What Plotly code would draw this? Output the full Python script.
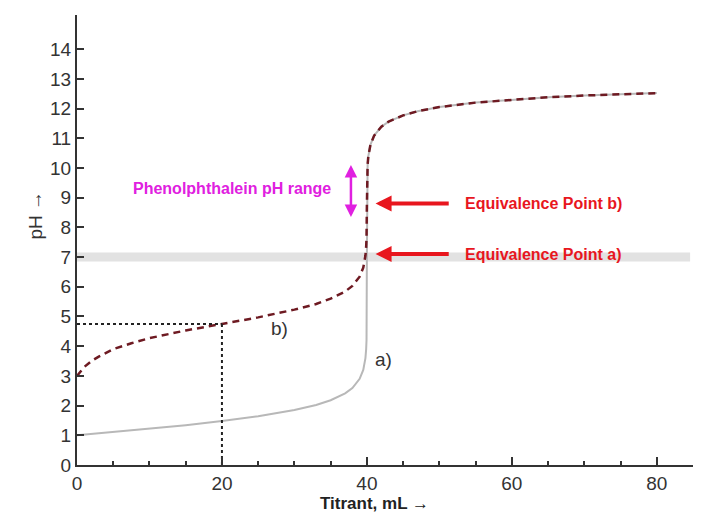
import plotly.graph_objects as go

# Titrant volume (mL) and pH
vol_a = [0, 5, 10, 15, 20, 25, 30, 33, 35, 37, 38, 39, 39.5, 39.8, 39.9, 39.95, 40,
         40.05, 40.1, 40.2, 40.5, 41, 42, 43, 45, 47, 50, 55, 60, 65, 70, 75, 80]
ph_a = [1.00, 1.11, 1.22, 1.34, 1.48, 1.64, 1.85, 2.02, 2.18, 2.41, 2.59, 2.90, 3.20, 3.60, 3.90, 4.20, 7.00,
        9.80, 10.10, 10.40, 10.79, 11.09, 11.39, 11.56, 11.77, 11.91, 12.05, 12.20, 12.30, 12.38, 12.44, 12.48, 12.52]

vol_b = [0, 1, 2, 3, 5, 7.5, 10, 15, 20, 25, 30, 33, 35, 37, 38, 39, 39.5, 39.8, 39.9, 39.95, 40,
         40.05, 40.1, 40.2, 40.5, 41, 42, 43, 45, 47, 50, 55, 60, 65, 70, 75, 80]
ph_b = [3.00, 3.30, 3.50, 3.65, 3.90, 4.10, 4.27, 4.53, 4.75, 4.97, 5.23, 5.42, 5.60, 5.84, 6.03, 6.34, 6.64, 7.05, 7.35, 7.65, 8.72,
        9.80, 10.10, 10.40, 10.79, 11.09, 11.39, 11.56, 11.77, 11.91, 12.05, 12.20, 12.30, 12.38, 12.44, 12.48, 12.52]

half_eq_vol = 20
half_eq_ph = 4.75
eq_a_ph = 7.0
eq_b_ph = 8.8
phen_low, phen_high = 8.3, 10.1

x_ticks = [0, 20, 40, 60, 80]
y_ticks = list(range(0, 15))

FONT = "Liberation Sans, Arial, sans-serif"

fig = go.Figure()

fig.add_trace(go.Scatter(x=vol_a, y=ph_a, mode="lines",
                         line=dict(color="#b8b8b8", width=2), hoverinfo="skip"))
fig.add_trace(go.Scatter(x=vol_b, y=ph_b, mode="lines",
                         line=dict(color="#6e1a22", width=2.5, dash="7px,5px"), hoverinfo="skip"))
# dotted guide lines at half-equivalence
fig.add_trace(go.Scatter(x=[0, half_eq_vol], y=[half_eq_ph, half_eq_ph], mode="lines",
                         line=dict(color="#222222", width=2, dash="dot"), hoverinfo="skip"))
fig.add_trace(go.Scatter(x=[half_eq_vol, half_eq_vol], y=[0, half_eq_ph], mode="lines",
                         line=dict(color="#222222", width=2, dash="dot"), hoverinfo="skip"))

# grey band at pH 7
fig.add_shape(type="rect", x0=0, x1=84.6, y0=eq_a_ph - 0.15, y1=eq_a_ph + 0.15,
              fillcolor="#e2e2e2", line=dict(width=0), layer="below")

red = "#e8161e"
mag = "#e020e0"
lab_font = dict(family=FONT, size=16, color=red)

# Equivalence arrows
for yv, txt in [(eq_b_ph, "<b>Equivalence Point b)</b>"), (eq_a_ph + 0.1, "<b>Equivalence Point a)</b>")]:
    fig.add_annotation(x=41.2, y=yv, ax=51.5, ay=yv, xref="x", yref="y", axref="x", ayref="y",
                       text="", showarrow=True, arrowhead=2, arrowsize=0.8, arrowwidth=4, arrowcolor=red)
    fig.add_annotation(x=53.3, y=yv, xref="x", yref="y", text=txt, showarrow=False,
                       xanchor="left", yanchor="middle", font=lab_font)

# Phenolphthalein double arrow
fig.add_annotation(x=37.8, y=phen_high, ax=37.8, ay=phen_low, xref="x", yref="y",
                   axref="x", ayref="y", text="", showarrow=True, arrowhead=2, arrowside="end+start",
                   arrowsize=1, arrowwidth=2.5, arrowcolor=mag)
fig.add_annotation(x=35.3, y=9.3, xref="x", yref="y", text="<b>Phenolphthalein pH range</b>",
                   showarrow=False, xanchor="right", yanchor="middle",
                   font=dict(family=FONT, size=16, color=mag))

# curve labels
fig.add_annotation(x=28, y=4.6, xref="x", yref="y", text="b)", showarrow=False,
                   font=dict(family=FONT, size=19, color="#333333"))
fig.add_annotation(x=42.3, y=3.55, xref="x", yref="y", text="a)", showarrow=False,
                   font=dict(family=FONT, size=19, color="#333333"))

# axis titles
fig.add_annotation(x=-0.067, y=0.556, xref="paper", yref="paper", text="pH →", textangle=-90,
                   xanchor="center", yanchor="middle",
                   showarrow=False, font=dict(family=FONT, size=19, color="#333333"))
fig.add_annotation(x=0.483, y=-0.085, xref="paper", yref="paper", text="<b>Titrant, mL →</b>",
                   xanchor="center", yanchor="middle", showarrow=False,
                   font=dict(family=FONT, size=17, color="#222222"))

fig.update_layout(
    width=720, height=518,
    margin=dict(l=77, r=27, t=15, b=53),
    paper_bgcolor="white", plot_bgcolor="white",
    showlegend=False,
    font=dict(family=FONT, size=20, color="#333333"),
    xaxis=dict(range=[0, 85], tickvals=x_ticks, ticks="inside", ticklen=8, tickwidth=2,
               tickcolor="#333333", showline=True, linecolor="#333333", linewidth=2,
               showgrid=False, zeroline=False, tickfont=dict(size=19),
               minor=dict(dtick=5, tick0=0, ticks="inside", ticklen=4, tickwidth=1.5, tickcolor="#333333")),
    yaxis=dict(range=[0, 15.15], tickvals=y_ticks, ticks="inside", ticklen=7, tickwidth=2,
               tickcolor="#333333", showline=True, linecolor="#333333", linewidth=2,
               showgrid=False, zeroline=False, tickfont=dict(size=19)),
)

fig.write_html("out.html")
